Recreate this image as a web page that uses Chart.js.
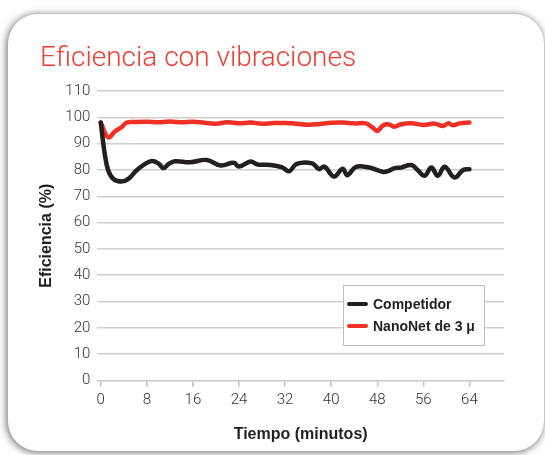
<!DOCTYPE html>
<html>
<head>
<meta charset="utf-8">
<script src="https://cdn.jsdelivr.net/npm/chart.js@4.4.1/dist/chart.umd.min.js"></script>
<style>
  html, body { margin: 0; padding: 0; background: #fff; }
  #wrap { position: relative; width: 545px; height: 455px; overflow: hidden; background: #fff; }
  #card {
    position: absolute; left: 8px; top: 14px; width: 536px; height: 437px;
    background: #fff; border-radius: 30px;
    box-shadow: -1px 1px 7px 1px rgba(0, 0, 0, 0.5);
  }
  #chart { position: absolute; left: 0; top: 0; }
</style>
</head>
<body>
<div id="wrap">
  <div id="card"></div>
  <canvas id="chart" width="545" height="455"></canvas>
</div>
<script>
// values
const chartTitle = 'Eficiencia con vibraciones'
const seriesNames = ['Competidor', 'NanoNet de 3 μ']

const compTimes = [0, 0.7, 1.3, 2.2, 3.6, 4.8, 6.2, 7.7, 8.9, 10, 10.9, 11.8, 12.9, 15.5, 18.4, 20.8, 23.1, 24,
    26, 27.2, 29.5, 31.5, 32.7, 34, 36.7, 37.9, 38.8, 40.5, 42, 42.8, 44.3, 46.6, 48.9, 49.8, 51, 52.1, 53.9,
    55, 56.2, 57.4, 58.5, 59.7, 61.4, 62.9, 64]
const compValues = [98, 86, 79.8, 76.6, 75.6, 76.6, 79.8, 82.3, 83.4, 82.5, 80.7, 82.3, 83.3, 82.9, 83.8, 81.7, 82.7, 81.3,
    83.2, 82.1, 81.9, 81, 79.5, 82.3, 82.5, 80.3, 81.3, 77.5, 80.5, 78, 81.2, 80.9, 79.3, 79.5, 80.7, 80.9, 81.9,
    80, 77.8, 80.9, 77.8, 81.2, 77.1, 80, 80.3]

const nanoTimes = [0, 1.3, 2.5, 3.6, 4.5, 6, 8, 10, 12, 14, 16, 18, 20, 22, 24, 26, 28, 30, 32, 34, 36, 38, 40,
    42, 44, 46, 47.2, 48, 49, 50, 51, 52, 54, 56, 58, 59.4, 60.3, 61.1, 62.3, 64]
const nanoValues = [98, 92.4, 94.7, 96.2, 98, 98.2, 98.3, 98.1, 98.4, 98.1, 98.3, 97.9, 97.6, 98.1, 97.7, 98, 97.6, 97.8, 97.8, 97.6, 97.2, 97.5, 97.9,
    98, 97.7, 97.7, 96.1, 94.8, 96.9, 97.3, 96.4, 97.3, 97.7, 97.1, 97.6, 96.7, 97.7, 97, 97.7, 98]

const xTicks = [0, 8, 16, 24, 32, 40, 48, 56, 64]
const yMin = 0
const yMax = 110
const yStep = 10

const blackColor = '#231f20'
const redColor = '#ee3124'
const gridColor = '#cfcfcf'
const tickFont = 'Roboto, "Liberation Sans", sans-serif'
const boldFont = '"Liberation Sans", Arial, sans-serif'

function toPoints(times, values) {
    return times.map((t, i) => ({ x: t, y: values[i] }))
}

// title and boxed legend drawn on the canvas
const decorPlugin = {
    id: 'decor',
    afterDraw(chart) {
        const ctx = chart.ctx
        ctx.save()
        ctx.fillStyle = '#ee3d31'
        ctx.font = '300 28px Roboto, "Liberation Sans", sans-serif'
        ctx.textBaseline = 'alphabetic'
        ctx.fillText(chartTitle, 40, 66)

        ctx.fillStyle = '#fff'
        ctx.fillRect(343, 285, 141, 60)
        ctx.strokeStyle = '#bdbdbd'
        ctx.lineWidth = 1
        ctx.strokeRect(343.5, 285.5, 141, 60)

        chart.data.datasets.forEach((ds, i) => {
            const y = 304 + i * 22
            ctx.strokeStyle = ds.borderColor
            ctx.lineWidth = 4
            ctx.lineCap = 'round'
            ctx.beginPath()
            ctx.moveTo(349, y)
            ctx.lineTo(366, y)
            ctx.stroke()
            ctx.fillStyle = blackColor
            ctx.font = 'bold 14px ' + boldFont
            ctx.textBaseline = 'middle'
            ctx.fillText(ds.label, 373, y + 1)
        })
        ctx.restore()
    }
}

const data = {
    datasets: [{
        label: seriesNames[0],
        data: toPoints(compTimes, compValues),
        borderColor: blackColor,
        borderWidth: 4.5,
        pointRadius: 0,
        tension: 0.4,
        borderCapStyle: 'round',
        borderJoinStyle: 'round',
        fill: false
    }, {
        label: seriesNames[1],
        data: toPoints(nanoTimes, nanoValues),
        borderColor: redColor,
        borderWidth: 4.5,
        pointRadius: 0,
        tension: 0.4,
        borderCapStyle: 'round',
        borderJoinStyle: 'round',
        fill: false
    }]
}

const config = {
    type: 'line',
    data: data,
    plugins: [decorPlugin],
    options: {
        responsive: false,
        animation: false,
        layout: { padding: { left: 0, top: 91, right: 41, bottom: 12.5 } },
        plugins: {
            legend: { display: false },
            tooltip: { enabled: false }
        },
        scales: {
            x: {
                type: 'linear',
                min: -0.6,
                max: 70,
                afterBuildTicks: (scale) => { scale.ticks = xTicks.map(v => ({ value: v })) },
                afterFit: (scale) => { scale.height = 62 },
                grid: { drawOnChartArea: false, tickLength: 6, color: '#bdbdbd', lineWidth: 1.5 },
                border: { color: gridColor, width: 1.5 },
                ticks: { padding: 5, color: '#333', autoSkip: false, maxRotation: 0, font: { family: tickFont, size: 15, weight: 300 } },
                title: {
                    display: true, text: 'Tiempo (minutos)', color: blackColor, padding: 0,
                    font: { family: boldFont, size: 16, weight: 'bold', lineHeight: 1 }
                }
            },
            y: {
                min: yMin,
                max: yMax,
                afterFit: (scale) => { scale.width = 97.3 },
                grid: { drawTicks: false, color: gridColor, lineWidth: 1.5 },
                border: { display: false },
                ticks: { stepSize: yStep, padding: 7, color: '#333', font: { family: tickFont, size: 15, weight: 300 } },
                title: {
                    display: true, text: 'Eficiencia (%)', color: blackColor, padding: { top: 38.7, bottom: 0 },
                    font: { family: boldFont, size: 16, weight: 'bold', lineHeight: 1 }
                }
            }
        }
    }
}

new Chart(document.getElementById('chart'), config)
</script>
</body>
</html>
